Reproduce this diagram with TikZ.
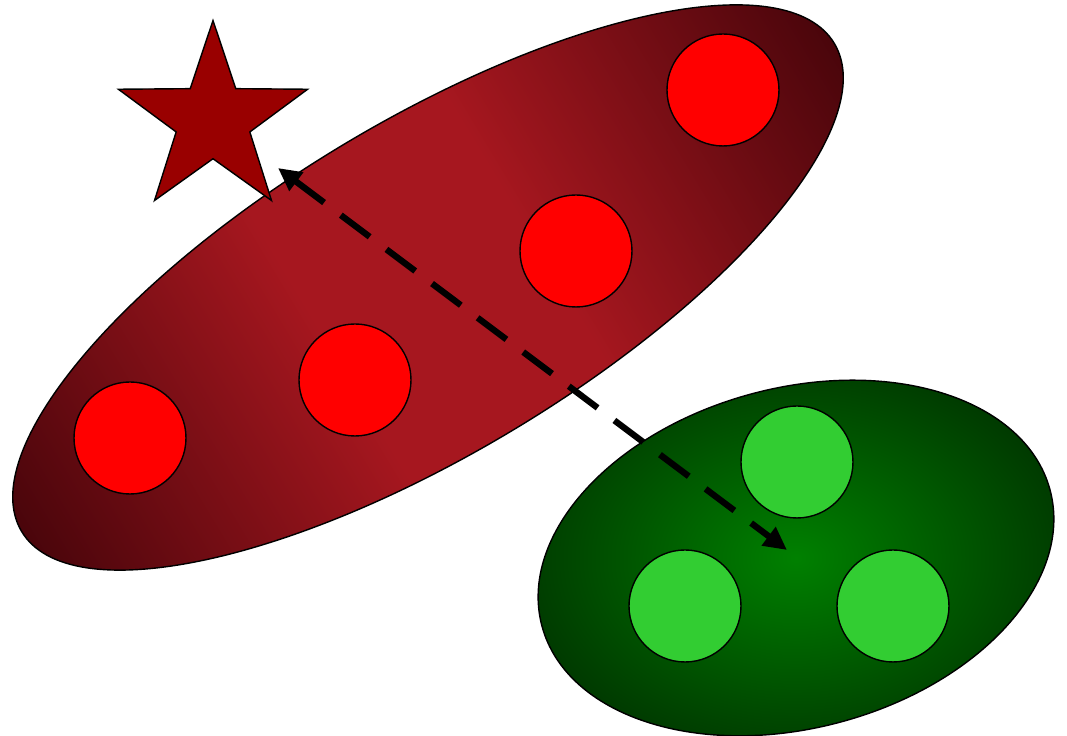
\documentclass[tikz,border=0pt]{standalone}
\usetikzlibrary{arrows.meta,shapes.geometric}
\definecolor{wine}{HTML}{A6171F}
\definecolor{wineend}{HTML}{4A050B}
\definecolor{leaf}{HTML}{008000}
\definecolor{leafend}{HTML}{003A00}
\definecolor{lime}{HTML}{32CD32}
\definecolor{starred}{HTML}{990000}
\pgfdeclarehorizontalshading{wineaxis}{100bp}{color(0bp)=(wineend); color(25bp)=(wineend); color(44bp)=(wine); color(56bp)=(wine); color(75bp)=(wineend); color(100bp)=(wineend)}
\tikzset{
  blob/.style={ellipse,draw=black,thin,inner sep=0pt},
  redset/.style={blob,shading=wineaxis},
  greenset/.style={blob,inner color=leaf,outer color=leafend},
  dot/.style={circle,draw=black,thin,minimum size=1.12cm,inner sep=0pt},
  reddot/.style={dot,fill=red},
  greendot/.style={dot,fill=lime},
  link/.style={{Triangle[length=0.23cm,width=0.22cm]}-{Triangle[length=0.23cm,width=0.22cm]},line width=1.8pt,dash pattern=on 0.36cm off 0.21cm}
}

\begin{document}
\begin{tikzpicture}
    \useasboundingbox (0,0) rectangle (10.67,7.36);
    % the two sets
    \begin{scope}[transform canvas={shift={(4.28,4.485)},rotate=31}]
      \node[redset,minimum width=9.48cm,minimum height=3.32cm] (redgroup) at (0,0) {};
    \end{scope}
    \node[greenset,rotate=15,minimum width=5.26cm,minimum height=3.4cm] (greengroup) at (7.96,1.78) {};
    % members
    \node[reddot] (r1) at (1.30,2.98) {};
    \node[reddot] (r2) at (3.55,3.56) {};
    \node[reddot] (r3) at (5.76,4.85) {};
    \node[reddot] (r4) at (7.23,6.46) {};
    \node[greendot] (g1) at (7.97,2.74) {};
    \node[greendot] (g2) at (6.85,1.30) {};
    \node[greendot] (g3) at (8.93,1.30) {};
    \node[star,star points=5,star point ratio=2.57,minimum size=1.99cm,inner sep=0pt,draw=black,thin,fill=starred] (mark) at (2.13,6.16) {};
    % distance between the sets
    \coordinate (from) at (2.78,5.68);
    \coordinate (to) at (7.87,1.86);
    \draw[link] (from) -- (to);
  \end{tikzpicture}
\end{document}
